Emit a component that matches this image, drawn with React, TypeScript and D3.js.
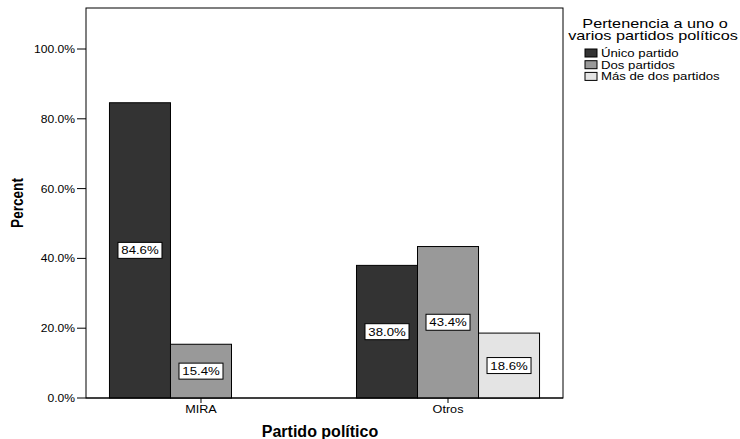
import React from "react";
import * as d3 from "d3";

const categories = ["MIRA", "Otros"];
const seriesNames = ["Único partido", "Dos partidos", "Más de dos partidos"];
const miraValues = [84.6, 15.4, null];
const otrosValues = [38.0, 43.4, 18.6];
const yTicks = [0, 20, 40, 60, 80, 100];
const colors = ["#333333", "#999999", "#e4e4e4"];

const W = 740;
const H = 439;
const left = 86;
const right = 563;
const top = 8;
const bottom = 398;
const font = "Arial, 'Liberation Sans', sans-serif";

function SText(props: { x: number; y: number; sx?: number; size: number; anchor?: string; bold?: boolean; rotate?: number; children: React.ReactNode }) {
  const { x, y, sx = 1, size, anchor = "start", bold, rotate = 0, children } = props;
  return (
    <text
      transform={`translate(${x},${y}) rotate(${rotate}) scale(${sx},1)`}
      textAnchor={anchor}
      fontSize={size}
      fontWeight={bold ? "bold" : "normal"}
      fill="#000"
    >
      {children}
    </text>
  );
}

export default function App() {
  const x = d3.scaleBand().domain(categories).range([left, right]).paddingInner(0.259).paddingOuter(0.095);
  const xs = d3.scaleBand().domain(seriesNames).range([0, x.bandwidth()]);
  const y = d3.scaleLinear().domain([0, 100]).range([bottom, 49]);
  const rows = [miraValues, otrosValues];

  return (
    <svg width={W} height={H} style={{ position: "absolute", left: 0, top: 0, background: "#fff" }} fontFamily={font}>
      <rect x={left} y={top} width={right - left} height={bottom - top} fill="#fff" stroke="#000" strokeWidth={1} />
      {categories.map((c, ci) =>
        rows[ci].map((v, si) => {
          if (v == null) return null;
          const bx = (x(c) as number) + (xs(seriesNames[si]) as number);
          const bw = xs.bandwidth();
          const yt = y(v);
          const mid = (yt + bottom) / 2;
          const label = v.toFixed(1) + "%";
          const lw = 44;
          return (
            <g key={c + si}>
              <rect x={bx} y={yt} width={bw} height={bottom - yt} fill={colors[si]} stroke="#000" strokeWidth={1} />
              <rect x={bx + bw / 2 - lw / 2} y={mid - 8} width={lw} height={16} fill="#fff" stroke="#000" strokeWidth={1} />
              <SText x={bx + bw / 2} y={mid + 4} size={11} sx={1.2} anchor="middle">{label}</SText>
            </g>
          );
        })
      )}
      <line x1={left} x2={right} y1={bottom} y2={bottom} stroke="#000" />
      {yTicks.map((t) => (
        <g key={t}>
          <line x1={left - 9} x2={left} y1={y(t)} y2={y(t)} stroke="#000" />
          <SText x={left - 11} y={y(t) + 4} size={11} sx={1.1} anchor="end">{t.toFixed(1) + "%"}</SText>
        </g>
      ))}
      {categories.map((c) => {
        const cx = (x(c) as number) + x.bandwidth() / 2;
        return (
          <g key={c}>
            <line x1={cx} x2={cx} y1={bottom} y2={bottom + 5} stroke="#000" />
            <SText x={cx} y={413} size={11} sx={1.15} anchor="middle">{c}</SText>
          </g>
        );
      })}
      <SText x={320} y={437} size={16} bold anchor="middle">Partido político</SText>
      <SText x={23} y={203} size={17} sx={0.8} bold anchor="middle" rotate={-90}>Percent</SText>
      <SText x={655} y={27.5} size={12.5} sx={1.3} anchor="middle">Pertenencia a uno o</SText>
      <SText x={653} y={39.5} size={12.5} sx={1.3} anchor="middle">varios partidos políticos</SText>
      {seriesNames.map((s, i) => (
        <g key={s}>
          <rect x={585} y={49 + i * 11.7} width={12} height={8} fill={colors[i]} stroke="#000" strokeWidth={1} />
          <SText x={601} y={57 + i * 11.7} size={11} sx={1.2}>{s}</SText>
        </g>
      ))}
    </svg>
  );
}
